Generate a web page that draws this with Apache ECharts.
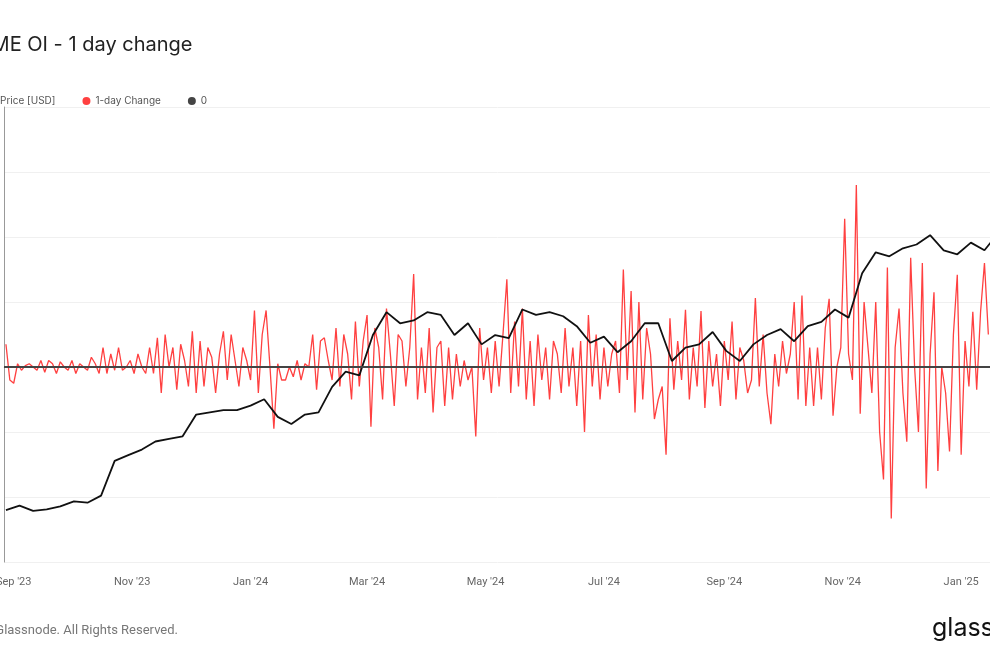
<!DOCTYPE html>
<html>
<head>
<meta charset="utf-8">
<script src="https://cdn.jsdelivr.net/npm/echarts@6/dist/echarts.min.js"></script>
<style>
  html, body { margin: 0; padding: 0; background: #fff; }
  #chart { width: 990px; height: 660px; }
</style>
</head>
<body>
<div id="chart"></div>
<script>
// 1-day change of CME OI, one reading every 2 days from 2023-08-28
var changeStart = Date.UTC(2023, 7, 28);
var changeValues = [
  0.35,-0.2,-0.25,0.05,-0.05,0.02,0.05,0.0,-0.05,0.1,
  -0.08,0.1,0.05,-0.1,0.08,0.0,-0.05,0.1,-0.1,0.05,
  0.0,-0.05,0.15,0.05,-0.1,0.3,-0.1,0.2,-0.05,0.3,
  -0.05,0.0,0.1,-0.1,0.2,0.0,-0.1,0.3,-0.1,0.45,
  -0.4,0.5,0.0,0.3,-0.35,0.35,0.1,-0.3,0.55,-0.4,
  0.4,-0.3,0.3,0.15,-0.4,0.2,0.55,-0.2,0.5,0.1,
  -0.3,0.3,0.1,-0.2,0.87,-0.4,0.5,0.87,0.0,-0.95,
  0.05,-0.2,-0.2,0.0,-0.15,0.1,-0.2,0.05,0.0,0.5,
  -0.35,0.4,0.45,0.1,-0.2,0.6,-0.3,0.5,0.2,-0.5,
  0.7,-0.3,0.4,0.8,-0.92,0.6,0.3,-0.5,0.9,0.2,
  -0.6,0.5,0.4,-0.3,0.3,1.43,-0.5,0.3,-0.4,0.6,
  -0.7,0.3,0.4,-0.6,0.3,-0.5,0.2,-0.3,0.1,-0.2,
  0.0,-1.07,0.6,-0.2,0.3,-0.4,0.4,-0.3,0.5,1.35,
  -0.4,0.7,-0.3,0.9,-0.5,0.4,-0.6,0.5,-0.2,0.3,
  -0.5,0.4,0.2,-0.4,0.6,-0.3,0.3,-0.6,0.4,-1.0,
  0.8,-0.3,0.5,-0.5,0.3,-0.3,0.2,0.4,-0.4,1.5,
  -0.2,1.17,-0.7,1.0,-0.5,0.6,0.2,-0.8,
  -0.5,-0.3,-1.35,0.75,-0.35,0.4,-0.2,0.88,-0.5,0.3,
  -0.3,0.86,-0.63,0.4,-0.3,0.2,-0.6,0.4,-0.2,0.7,
  -0.5,0.3,0.1,-0.4,-0.2,1.06,-0.3,0.5,-0.4,-0.88,
  0.2,-0.3,0.4,-0.1,0.2,1.0,-0.5,1.1,-0.6,0.3,
  -0.6,0.3,-0.5,0.6,1.05,-0.75,0.0,0.3,2.28,0.2,
  -0.2,2.8,-0.72,1.0,0.3,-0.4,1.0,-1.0,-1.73,1.53,
  -2.33,0.3,0.9,-0.4,-1.15,1.68,0.0,-1.0,1.6,-1.87,
  0.2,1.15,-1.6,0.0,-0.4,-1.3,0.5,1.42,-1.35,0.4,
  -0.3,0.85,-0.35,0.85,1.6,0.5
];

// BTC price [USD, thousands], weekly from 2023-08-28
var priceStart = Date.UTC(2023, 7, 28);
var priceValues = [
  26.0,26.6,25.9,26.1,26.5,27.2,27.0,28.0,33.5,34.5,
  35.5,37.0,37.5,38.0,42.5,43.0,43.5,43.5,44.5,46.0,
  42.0,40.5,42.5,43.0,49.0,53.0,52.0,64.0,72.0,68.0,
  69.0,72.0,71.0,64.0,68.0,61.0,64.0,63.0,73.0,71.0,
  72.0,70.5,67.0,61.5,63.5,58.6,62.0,68.0,68.0,56.0,
  60.0,61.0,65.0,59.0,56.0,61.0,64.0,66.0,62.0,67.0,
  68.5,73.0,70.0,88.0,98.0,96.0,100.0,102.0,107.0,99.0,
  97.0,103.0,99.0,108.0
];

var DAY = 86400000;
var changeData = changeValues.map(function (v, i) { return [changeStart + i * 2 * DAY, v]; });
var priceData = priceValues.map(function (v, i) { return [priceStart + i * 7 * DAY, v * 1000]; });

var xMin = Date.UTC(2023, 7, 27);
var xMax = Date.UTC(2025, 0, 21);
var zeroData = [[xMin, 0], [xMax, 0]];

var monthNames = ['Jan','Feb','Mar','Apr','May','Jun','Jul','Aug','Sep','Oct','Nov','Dec'];

var myChart = echarts.init(document.getElementById('chart'));

var option = {
    animation: false,
    title: {
        text: 'CME OI - 1 day change',
        left: -28,
        top: 30,
        textStyle: { fontFamily: 'Inter', fontSize: 20, fontWeight: 'normal', color: '#222' }
    },
    legend: {
        left: -18,
        top: 91,
        icon: 'circle',
        itemWidth: 8,
        itemHeight: 8,
        itemGap: 27,
        textStyle: { fontFamily: 'Inter', fontSize: 10, color: '#555' },
        data: [
            { name: 'Price [USD]', itemStyle: { color: '#111' } },
            { name: '1-day Change', itemStyle: { color: '#ff4040' } },
            { name: '0', itemStyle: { color: '#444' } }
        ]
    },
    grid: { left: 4, right: -10, top: 107, bottom: 98, outerBoundsMode: 'none', containLabel: false },
    xAxis: {
        type: 'time',
        min: xMin,
        max: xMax,
        splitNumber: 17,
        axisLine: { show: true, lineStyle: { color: '#e6e6e6' } },
        axisTick: { show: false },
        splitLine: { show: false },
        axisLabel: {
            fontFamily: 'Roboto',
            fontSize: 11,
            color: '#666',
            margin: 15,
            formatter: function (v) {
                var d = new Date(v);
                if (d.getUTCDate() !== 1 || d.getUTCMonth() % 2 !== 0) return '';
                return monthNames[d.getUTCMonth()] + " '" + String(d.getUTCFullYear()).slice(2);
            }
        }
    },
    yAxis: [
        {
            type: 'value',
            min: -3,
            max: 4,
            interval: 1,
            axisLabel: { show: false },
            axisLine: { show: true, lineStyle: { color: '#999' } },
            axisTick: { show: false },
            splitLine: { lineStyle: { color: '#f0f0f0' } }
        },
        {
            type: 'log',
            logBase: 10,
            min: 19900,
            max: 207000,
            axisLabel: { show: false },
            axisLine: { show: false },
            axisTick: { show: false },
            splitLine: { show: false }
        }
    ],
    series: [
        {
            name: 'Price [USD]',
            type: 'line',
            yAxisIndex: 1,
            data: priceData,
            showSymbol: false,
            lineStyle: { color: '#111', width: 1.8 },
            itemStyle: { color: '#111' },
            z: 3
        },
        {
            name: '1-day Change',
            type: 'line',
            yAxisIndex: 0,
            data: changeData,
            showSymbol: false,
            lineStyle: { color: '#ff4040', width: 1.3 },
            itemStyle: { color: '#ff4040' },
            z: 2
        },
        {
            name: '0',
            type: 'line',
            yAxisIndex: 0,
            data: zeroData,
            showSymbol: false,
            lineStyle: { color: '#444', width: 2 },
            itemStyle: { color: '#444' },
            z: 4
        }
    ],
    graphic: [
        {
            type: 'text',
            right: 812,
            top: 624,
            style: { text: '© 2025 Glassnode. All Rights Reserved.', fontFamily: 'Roboto', fontSize: 13, fill: '#777' }
        },
        {
            type: 'text',
            left: 932,
            top: 616,
            style: { text: 'glassnode', fontFamily: 'Inter', fontSize: 25, fill: '#111' }
        }
    ]
};

myChart.setOption(option);
</script>
</body>
</html>
